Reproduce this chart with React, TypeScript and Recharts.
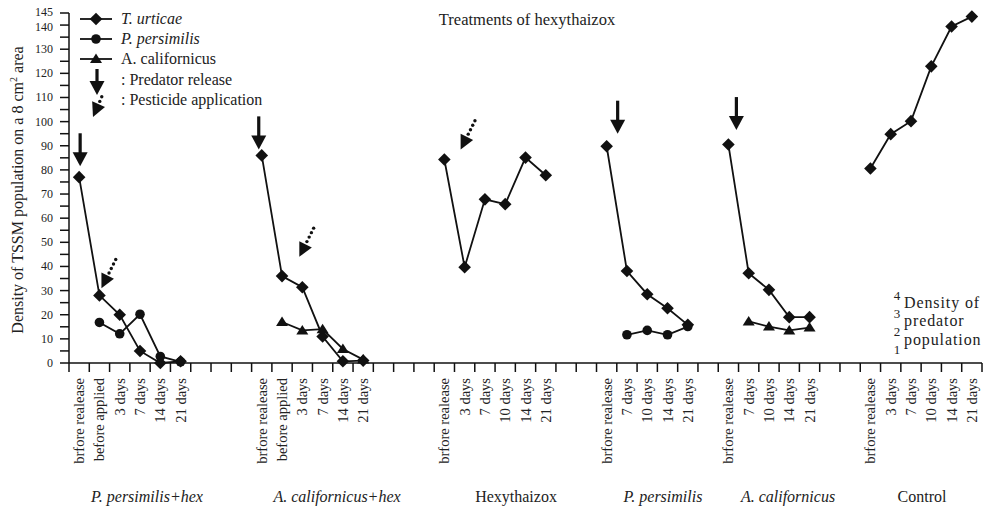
import { LineChart, Line, XAxis, YAxis, ReferenceDot } from "recharts";

// 45 slots on the category axis, empty strings are the gaps between treatments
const categories = [
  "brfore realease", "before applied", "3 days", "7 days", "14 days", "21 days",
  "", "", "",
  "brfore realease", "before applied", "3 days", "7 days", "14 days", "21 days",
  "", "", "",
  "brfore realease", "3 days", "7 days", "10 days", "14 days", "21 days",
  "", "",
  "brfore realease", "7 days", "10 days", "14 days", "21 days",
  "",
  "brfore realease", "7 days", "10 days", "14 days", "21 days",
  "", "",
  "brfore realease", "3 days", "7 days", "10 days", "14 days", "21 days",
];

const tUrticae = [
  77, 28, 20, 5, 0, 0.7,
  null, null, null,
  86, 36, 31.4, 11, 0.7, 1,
  null, null, null,
  84.3, 39.7, 67.8, 65.8, 85.1, 77.8,
  null, null,
  89.8, 38.1, 28.5, 22.7, 15.8,
  null,
  90.5, 37.2, 30.3, 19, 19,
  null, null,
  80.6, 94.8, 100.2, 122.9, 139.4, 143.5,
];

const pPersimilis = [
  null, 16.8, 12.1, 20.2, 2.7, 0.5,
  null, null, null,
  null, null, null, null, null, null,
  null, null, null,
  null, null, null, null, null, null,
  null, null,
  null, 11.7, 13.5, 11.7, 15.1,
  null,
  null, null, null, null, null,
  null, null,
  null, null, null, null, null, null,
];

const aCalifornicus = [
  null, null, null, null, null, null,
  null, null, null,
  null, 17, 13.5, 14, 5.8, 1.4,
  null, null, null,
  null, null, null, null, null, null,
  null, null,
  null, null, null, null, null,
  null,
  null, 17.2, 15.1, 13.5, 14.7,
  null, null,
  null, null, null, null, null, null,
];

const yTicks = [0, 5, 10, 15, 20, 25, 30, 35, 40, 45, 50, 55, 60, 65, 70, 75, 80, 85, 90, 95, 100, 105, 110, 115, 120, 125, 130, 135, 140, 145];
const yLabelTicks = [0, 10, 20, 30, 40, 50, 60, 70, 80, 90, 100, 110, 120, 130, 140, 145];

const groupLabels = [
  { text: "P. persimilis+hex", x: 147, italic: true },
  { text: "A. californicus+hex", x: 337, italic: true },
  { text: "Hexythaizox", x: 516, italic: false },
  { text: "P. persimilis", x: 663, italic: true },
  { text: "A. californicus", x: 788, italic: true },
  { text: "Control", x: 922, italic: false },
];

// arrows: slot on the axis, value where the arrow tip sits
const predatorArrows = [
  { slot: 0, tip: 81.5, dx: 1 },
  { slot: 9, tip: 88.5, dx: -3 },
  { slot: 26, tip: 95, dx: 11 },
  { slot: 32, tip: 96.5, dx: 8 },
];
const pesticideArrows = [
  { slot: 1, tip: 31, dx: 2 },
  { slot: 11, tip: 44, dx: -3 },
  { slot: 19, tip: 88.5, dx: -4 },
];

const data = categories.map((label, i) => ({
  key: `c${i}`,
  label,
  tu: tUrticae[i],
  pp: pPersimilis[i],
  ac: aCalifornicus[i],
}));

const FONT = "'Liberation Serif', 'Times New Roman', serif";
const INK = "#111";
const TEXT = "#222";

const diamond = (cx: number, cy: number, s = 6.3) =>
  `M${cx},${cy - s} L${cx + s},${cy} L${cx},${cy + s} L${cx - s},${cy} Z`;
const triangle = (cx: number, cy: number) =>
  `M${cx},${cy - 5.5} L${cx + 6},${cy + 4} L${cx - 6},${cy + 4} Z`;

const DiamondDot = (p: any) => {
  if (p.cy == null || p.value == null) return <g key={p.key} />;
  return <path key={p.key} d={diamond(p.cx, p.cy)} fill={INK} />;
};
const CircleDot = (p: any) => {
  if (p.cy == null || p.value == null) return <g key={p.key} />;
  return <circle key={p.key} cx={p.cx} cy={p.cy} r={4.8} fill={INK} />;
};
const TriangleDot = (p: any) => {
  if (p.cy == null || p.value == null) return <g key={p.key} />;
  return <path key={p.key} d={triangle(p.cx, p.cy)} fill={INK} />;
};

function PredatorArrow({ x, y, len = 33 }: { x: number; y: number; len?: number }) {
  return (
    <g>
      <rect x={x - 1.6} y={y - len} width={3.2} height={len - 12} fill={INK} />
      <path d={`M${x},${y} L${x + 7.5},${y - 14} L${x - 7.5},${y - 14} Z`} fill={INK} />
    </g>
  );
}

function PesticideArrow({ x, y, tx = 15, ty = -30 }: { x: number; y: number; tx?: number; ty?: number }) {
  const len = Math.sqrt(tx * tx + ty * ty);
  const ux = tx / len;
  const uy = ty / len;
  const head = 14;
  const bx = x + ux * head;
  const by = y + uy * head;
  const dots = [];
  for (let d = head + 3; d <= len; d += 5) {
    dots.push(<circle key={d} cx={x + ux * d} cy={y + uy * d} r={1.7} fill={INK} />);
  }
  return (
    <g>
      {dots}
      <path
        d={`M${x},${y} L${bx - uy * 7},${by + ux * 7} L${bx + uy * 7},${by - ux * 7} Z`}
        fill={INK}
      />
    </g>
  );
}

const XTick = (props: any) => {
  const { x, y, payload } = props;
  const i = parseInt(String(payload.value).slice(1), 10);
  const half = payload.offset || 10.14;
  const label = categories[i];
  return (
    <g>
      <line x1={x - half} y1={y - 15} x2={x - half} y2={y - 6} stroke={INK} strokeWidth={1.5} />
      {i === categories.length - 1 && (
        <line x1={x + half} y1={y - 15} x2={x + half} y2={y - 6} stroke={INK} strokeWidth={1.5} />
      )}
      {label && (
        <text
          x={x}
          y={y}
          transform={`rotate(-90, ${x}, ${y})`}
          textAnchor="end"
          dominantBaseline="central"
          fontFamily={FONT}
          fontSize={14.5}
          fill={TEXT}
        >
          {label}
        </text>
      )}
    </g>
  );
};

const YTick = (props: any) => {
  const { x, y, payload } = props;
  if (!yLabelTicks.includes(payload.value)) return <g />;
  // 145 and 140 sit very close together at the top, spread them a touch
  const nudge = payload.value === 145 ? -1.5 : payload.value === 140 ? 1.5 : 0;
  return (
    <text
      x={x}
      y={y + nudge}
      textAnchor="end"
      dominantBaseline="central"
      fontFamily={FONT}
      fontSize={12}
      fill={TEXT}
    >
      {payload.value}
    </text>
  );
};

function Overlay() {
  const t = { fontFamily: FONT, fill: TEXT };
  return (
    <svg
      width={986}
      height={510}
      style={{ position: "absolute", left: 0, top: 0, pointerEvents: "none" }}
    >
      <text {...t} x={527} y={25} fontSize={16.5} textAnchor="middle">
        Treatments of hexythaizox
      </text>

      <text {...t} fontSize={16} textAnchor="middle" transform="rotate(-90, 23, 190)" x={23} y={190}>
        Density of TSSM population on a 8 cm
        <tspan fontSize={10} dy={-6}>2</tspan>
        <tspan dy={6}> area</tspan>
      </text>

      {/* legend */}
      <line x1={80} y1={19} x2={112} y2={19} stroke={INK} strokeWidth={1.8} />
      <path d={diamond(96, 19)} fill={INK} />
      <text {...t} x={121} y={24} fontSize={16} fontStyle="italic">T. urticae</text>
      <line x1={80} y1={39} x2={112} y2={39} stroke={INK} strokeWidth={1.8} />
      <circle cx={96} cy={39} r={4.8} fill={INK} />
      <text {...t} x={121} y={44} fontSize={16} fontStyle="italic">P. persimilis</text>
      <line x1={80} y1={59} x2={112} y2={59} stroke={INK} strokeWidth={1.8} />
      <path d={triangle(96, 59)} fill={INK} />
      <text {...t} x={121} y={64} fontSize={16}>A. californicus</text>
      <PredatorArrow x={97} y={95} len={26} />
      <text {...t} x={121} y={85} fontSize={16}>: Predator release</text>
      <PesticideArrow x={93} y={117} tx={10} ty={-23} />
      <text {...t} x={121} y={105} fontSize={16}>: Pesticide application</text>

      {groupLabels.map((g) => (
        <text
          key={g.text}
          {...t}
          x={g.x}
          y={502}
          fontSize={16}
          textAnchor="middle"
          fontStyle={g.italic ? "italic" : "normal"}
        >
          {g.text}
        </text>
      ))}

      {["4", "3", "2", "1"].map((n, i) => (
        <text key={n} {...t} x={897} y={300 + i * 18} fontSize={13} textAnchor="middle">
          {n}
        </text>
      ))}
      <text {...t} x={904} y={308} fontSize={16} letterSpacing={0.9}>Density of</text>
      <text {...t} x={904} y={326} fontSize={16} letterSpacing={0.9}>predator</text>
      <text {...t} x={904} y={345} fontSize={16} letterSpacing={0.9}>population</text>
    </svg>
  );
}

export default function App() {
  return (
    <div style={{ position: "absolute", left: 0, top: 0, width: 986, height: 510, background: "#fff" }}>
      <LineChart
        width={986}
        height={510}
        data={data}
        margin={{ top: 13, right: 4, bottom: 0, left: 0 }}
      >
        <XAxis
          dataKey="key"
          type="category"
          scale="band"
          interval={0}
          height={147}
          tickLine={false}
          tickSize={8}
          tickMargin={7}
          axisLine={{ stroke: INK, strokeWidth: 1.5 }}
          tick={<XTick />}
        />
        <YAxis
          type="number"
          domain={[0, 145]}
          ticks={yTicks}
          interval={0}
          width={69}
          tickSize={9}
          tickMargin={7}
          axisLine={{ stroke: INK, strokeWidth: 1.5 }}
          tickLine={{ stroke: INK, strokeWidth: 1.5 }}
          tick={<YTick />}
        />
        <Line
          dataKey="tu"
          type="linear"
          stroke={INK}
          strokeWidth={1.8}
          dot={DiamondDot}
          activeDot={false}
          isAnimationActive={false}
        />
        <Line
          dataKey="pp"
          type="linear"
          stroke={INK}
          strokeWidth={1.8}
          dot={CircleDot}
          activeDot={false}
          isAnimationActive={false}
        />
        <Line
          dataKey="ac"
          type="linear"
          stroke={INK}
          strokeWidth={1.8}
          dot={TriangleDot}
          activeDot={false}
          isAnimationActive={false}
        />
        {predatorArrows.map((a) => (
          <ReferenceDot
            key={`pr${a.slot}`}
            x={`c${a.slot}`}
            y={a.tip}
            r={0}
            ifOverflow="visible"
            shape={(p: any) => <PredatorArrow x={p.cx + a.dx} y={p.cy} />}
          />
        ))}
        {pesticideArrows.map((a) => (
          <ReferenceDot
            key={`pe${a.slot}`}
            x={`c${a.slot}`}
            y={a.tip}
            r={0}
            ifOverflow="visible"
            shape={(p: any) => <PesticideArrow x={p.cx + a.dx} y={p.cy} />}
          />
        ))}
      </LineChart>
      <Overlay />
    </div>
  );
}
